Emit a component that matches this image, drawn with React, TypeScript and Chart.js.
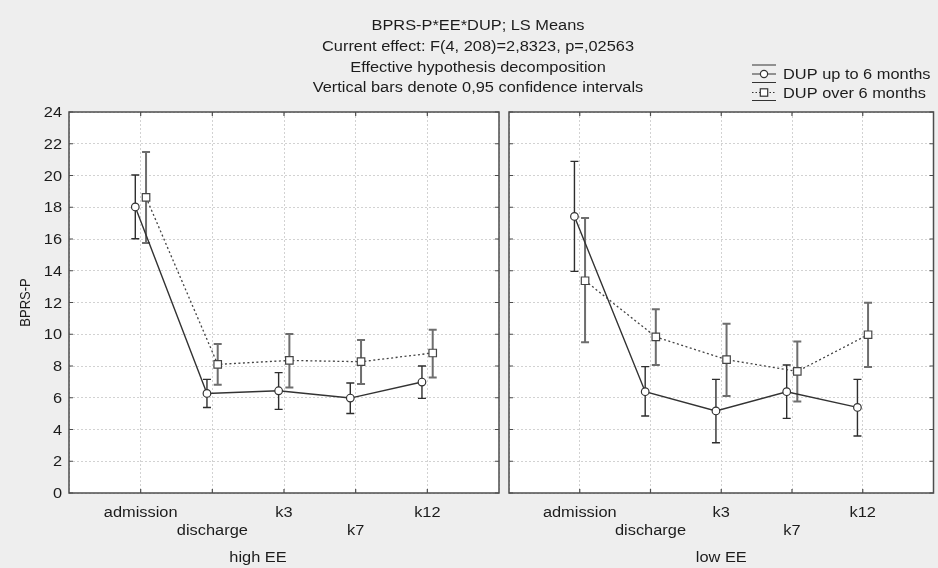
import React, { useEffect, useRef } from 'react';
import { Chart, registerables } from 'chart.js';

Chart.register(...registerables);

// ---------- data ----------
const categories = ['admission', 'discharge', 'k3', 'k7', 'k12'];
const seriesNames = ['DUP up to 6 months', 'DUP over 6 months'];
const panelTitles = ['high EE', 'low EE'];
const titleLines = [
  'BPRS-P*EE*DUP; LS Means',
  'Current effect: F(4, 208)=2,8323, p=,02563',
  'Effective hypothesis decomposition',
  'Vertical bars denote 0,95 confidence intervals',
];
const yAxisTitle = 'BPRS-P';
const yMin = 0;
const yMax = 24;
const yStep = 2;

// high EE
const highUpMean = [18.02, 6.27, 6.44, 5.98, 6.99];
const highUpLow = [16.02, 5.39, 5.27, 5.01, 5.96];
const highUpHigh = [20.03, 7.16, 7.58, 6.93, 8.0];
const highOverMean = [18.62, 8.1, 8.35, 8.27, 8.82];
const highOverLow = [15.75, 6.82, 6.65, 6.87, 7.28];
const highOverHigh = [21.48, 9.39, 10.02, 9.64, 10.29];

// low EE
const lowUpMean = [17.42, 6.38, 5.17, 6.38, 5.39];
const lowUpLow = [13.96, 4.85, 3.17, 4.7, 3.59];
const lowUpHigh = [20.89, 7.96, 7.16, 8.06, 7.16];
const lowOverMean = [13.37, 9.83, 8.4, 7.66, 9.97];
const lowOverLow = [9.49, 8.06, 6.11, 5.77, 7.94];
const lowOverHigh = [17.32, 11.57, 10.66, 9.55, 11.99];

// ---------- styling ----------
const FONT = '"Liberation Sans", Arial, sans-serif';
const SX = 1.17; // horizontal text stretch of the original picture
const TEXT = '#1c1c1c';
const GRID = '#d2d2d2';
const FRAME = '#4d4d4d';
const DODGE = 0.075;
const W = 938;
const H = 568;

function drawText(
  ctx: CanvasRenderingContext2D,
  text: string,
  x: number,
  y: number,
  align: CanvasTextAlign,
  size: number,
) {
  ctx.save();
  ctx.font = `${size}px ${FONT}`;
  ctx.fillStyle = TEXT;
  ctx.textBaseline = 'alphabetic';
  ctx.textAlign = align;
  ctx.translate(x, y);
  ctx.scale(SX, 1);
  ctx.fillText(text, 0, 0);
  ctx.restore();
}

type Series = { mean: number[]; low: number[]; high: number[] };

function panelPlugin(panel: number, series: Series[]) {
  return {
    id: 'panelDeco' + panel,
    beforeDraw(chart: any) {
      const { ctx, chartArea: a } = chart;
      ctx.save();
      ctx.fillStyle = '#ffffff';
      ctx.fillRect(a.left, a.top, a.right - a.left, a.bottom - a.top);
      ctx.restore();
    },
    beforeDatasetsDraw(chart: any) {
      const { ctx } = chart;
      const xs = chart.scales.x;
      const ys = chart.scales.y;
      series.forEach((s, si) => {
        ctx.save();
        ctx.strokeStyle = si === 0 ? '#2e2e2e' : '#6e6e6e';
        ctx.lineWidth = si === 0 ? 1.4 : 2;
        const off = si === 0 ? -DODGE : DODGE;
        s.mean.forEach((_, i) => {
          const x = xs.getPixelForValue(i + 1 + off);
          const y1 = ys.getPixelForValue(s.low[i]);
          const y2 = ys.getPixelForValue(s.high[i]);
          ctx.beginPath();
          ctx.moveTo(x, y1);
          ctx.lineTo(x, y2);
          ctx.moveTo(x - 4, y1);
          ctx.lineTo(x + 4, y1);
          ctx.moveTo(x - 4, y2);
          ctx.lineTo(x + 4, y2);
          ctx.stroke();
        });
        ctx.restore();
      });
    },
    afterDraw(chart: any) {
      const { ctx, chartArea: a } = chart;
      const xs = chart.scales.x;
      const ys = chart.scales.y;
      // frame
      ctx.save();
      ctx.strokeStyle = FRAME;
      ctx.lineWidth = 1.5;
      ctx.strokeRect(a.left, a.top, a.right - a.left, a.bottom - a.top);
      // inward ticks
      ctx.lineWidth = 1.2;
      ctx.beginPath();
      ys.ticks.forEach((t: any) => {
        const y = ys.getPixelForValue(t.value);
        ctx.moveTo(a.left, y);
        ctx.lineTo(a.left + 4, y);
        ctx.moveTo(a.right, y);
        ctx.lineTo(a.right - 4, y);
      });
      categories.forEach((_, i) => {
        const x = xs.getPixelForValue(i + 1);
        ctx.moveTo(x, a.bottom);
        ctx.lineTo(x, a.bottom - 4);
        ctx.moveTo(x, a.top);
        ctx.lineTo(x, a.top + 4);
      });
      ctx.stroke();
      ctx.restore();

      // category labels (staggered)
      categories.forEach((c, i) => {
        const x = xs.getPixelForValue(i + 1);
        drawText(ctx, c, x, a.bottom + (i % 2 === 0 ? 24 : 42), 'center', 14);
      });
      // panel title
      const cx = panel === 0 ? 258 : (a.left + a.right) / 2;
      drawText(ctx, panelTitles[panel], cx, a.bottom + 69, 'center', 14);

      if (panel === 0) {
        // y tick labels
        ys.ticks.forEach((t: any) => {
          const y = ys.getPixelForValue(t.value);
          drawText(ctx, String(t.value), 62, y + 5, 'right', 14);
        });
        // y axis title
        ctx.save();
        ctx.font = `13px ${FONT}`;
        ctx.fillStyle = TEXT;
        ctx.textAlign = 'center';
        ctx.textBaseline = 'middle';
        ctx.translate(26, (a.top + a.bottom) / 2);
        ctx.rotate(-Math.PI / 2);
        ctx.scale(1, SX);
        ctx.fillText(yAxisTitle, 0, 0);
        ctx.restore();
        // chart title
        titleLines.forEach((t, i) => {
          drawText(ctx, t, 478, 30 + i * 20.8, 'center', 14);
        });
        // legend
        const lx0 = 752;
        const lx1 = 776;
        const lcx = (lx0 + lx1) / 2;
        ctx.save();
        ctx.lineWidth = 1.2;
        ctx.strokeStyle = '#333';
        ctx.beginPath();
        [65, 74, 82.5].forEach((y) => {
          ctx.moveTo(lx0, y);
          ctx.lineTo(lx1, y);
        });
        ctx.moveTo(lx0, 100.5);
        ctx.lineTo(lx1, 100.5);
        ctx.stroke();
        ctx.setLineDash([1.5, 2]);
        ctx.beginPath();
        ctx.moveTo(lx0, 92.5);
        ctx.lineTo(lx1, 92.5);
        ctx.stroke();
        ctx.setLineDash([]);
        ctx.fillStyle = '#fff';
        ctx.beginPath();
        ctx.arc(lcx, 74, 3.6, 0, Math.PI * 2);
        ctx.fill();
        ctx.stroke();
        ctx.fillRect(lcx - 3.7, 92.5 - 3.7, 7.4, 7.4);
        ctx.strokeRect(lcx - 3.7, 92.5 - 3.7, 7.4, 7.4);
        ctx.restore();
        drawText(ctx, seriesNames[0], 783, 79, 'left', 14);
        drawText(ctx, seriesNames[1], 783, 97.5, 'left', 14);
      }
    },
  };
}

function buildConfig(panel: number): any {
  const up: Series =
    panel === 0
      ? { mean: highUpMean, low: highUpLow, high: highUpHigh }
      : { mean: lowUpMean, low: lowUpLow, high: lowUpHigh };
  const over: Series =
    panel === 0
      ? { mean: highOverMean, low: highOverLow, high: highOverHigh }
      : { mean: lowOverMean, low: lowOverLow, high: lowOverHigh };

  const gridOpts = { color: GRID, lineWidth: 1, drawTicks: false };
  const borderOpts = { display: false, dash: [2, 2] };

  return {
    type: 'line',
    data: {
      datasets: [
        {
          label: seriesNames[0],
          data: up.mean.map((v, i) => ({ x: i + 1 - DODGE, y: v })),
          borderColor: '#333333',
          borderWidth: 1.4,
          pointStyle: 'circle',
          pointRadius: 3.8,
          pointBackgroundColor: '#ffffff',
          pointBorderColor: '#333333',
          pointBorderWidth: 1.2,
          tension: 0,
          fill: false,
        },
        {
          label: seriesNames[1],
          data: over.mean.map((v, i) => ({ x: i + 1 + DODGE, y: v })),
          borderColor: '#444444',
          borderWidth: 1.3,
          borderDash: [2, 2.5],
          pointStyle: 'rect',
          pointRadius: 5.3,
          pointBackgroundColor: '#ffffff',
          pointBorderColor: '#444444',
          pointBorderWidth: 1.2,
          tension: 0,
          fill: false,
        },
      ],
    },
    options: {
      responsive: false,
      animation: false,
      devicePixelRatio: 1,
      events: [],
      layout: {
        padding: panel === 0
          ? { top: 112, left: 0, right: W - 499, bottom: 0 }
          : { top: 112, left: 0, right: 1, bottom: 0 },
      },
      plugins: {
        legend: { display: false },
        title: { display: false },
        tooltip: { enabled: false },
      },
      scales: {
        x: {
          type: 'linear',
          min: 0,
          max: categories.length + 1,
          ticks: { display: false, stepSize: 1 },
          grid: gridOpts,
          border: borderOpts,
          afterFit: (s: any) => {
            s.height = H - 493;
          },
        },
        y: {
          type: 'linear',
          min: yMin,
          max: yMax,
          ticks: { display: false, stepSize: yStep },
          grid: gridOpts,
          border: borderOpts,
          afterFit: (s: any) => {
            s.width = panel === 0 ? 69 : 509;
          },
        },
      },
    },
    plugins: [panelPlugin(panel, [up, over])],
  };
}

export default function App() {
  const ref0 = useRef<HTMLCanvasElement>(null);
  const ref1 = useRef<HTMLCanvasElement>(null);

  useEffect(() => {
    const c0 = new Chart(ref0.current as HTMLCanvasElement, buildConfig(0));
    const c1 = new Chart(ref1.current as HTMLCanvasElement, buildConfig(1));
    return () => {
      c0.destroy();
      c1.destroy();
    };
  }, []);

  return (
    <div
      style={{
        position: 'fixed',
        left: 0,
        top: 0,
        width: W,
        height: H,
        overflow: 'hidden',
        background: '#eeeeee',
      }}
    >
      <canvas
        ref={ref0}
        width={W}
        height={H}
        style={{ position: 'absolute', left: 0, top: 0, width: W, height: H }}
      />
      <canvas
        ref={ref1}
        width={940}
        height={H}
        style={{ position: 'absolute', left: 0, top: 0, width: 940, height: H }}
      />
    </div>
  );
}
